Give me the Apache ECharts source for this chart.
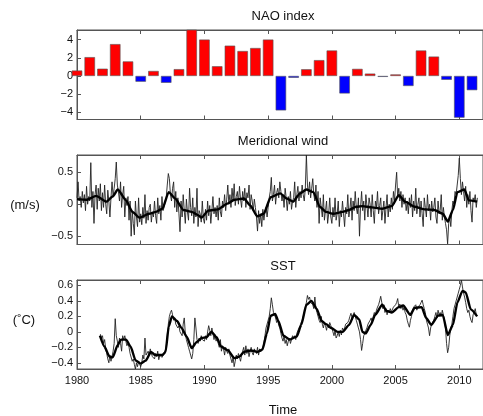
<!DOCTYPE html>
<html>
<head>
<meta charset="utf-8">
<script src="https://cdn.jsdelivr.net/npm/echarts@6/dist/echarts.min.js"></script>
<style>
html,body{margin:0;padding:0;background:#fff}
#main{width:483px;height:416px}
</style>
</head>
<body>
<div id="main"></div>
<script>
// NAO index (one bar per year)
var naoYears = [1980,1981,1982,1983,1984,1985,1986,1987,1988,1989,1990,1991,1992,1993,1994,1995,
  1996,1997,1998,1999,2000,2001,2002,2003,2004,2005,2006,2007,2008,2009,2010,2011];
var naoValues = [0.6,2.07,0.8,3.5,1.6,-0.63,0.55,-0.75,0.75,5.1,4.0,1.07,3.33,2.74,3.07,4.0,
  -3.78,-0.2,0.74,1.74,2.8,-1.92,0.78,0.26,-0.1,0.17,-1.1,2.8,2.13,-0.42,-4.58,-1.56];

// meridional wind, monthly from Jan 1980
var windStart = 1980;
var windMonthly = [
  0.10,0.35,0.05,0.12,-0.05,0.20,0.02,0.15,-0.10,0.28,0.00,0.12,
  0.05,0.65,-0.05,0.20,-0.30,0.15,0.30,-0.08,0.25,0.05,0.32,-0.10,
  0.18,-0.05,0.30,0.00,-0.15,0.22,0.05,-0.20,0.10,0.35,0.12,0.25,
  0.40,0.66,0.30,0.20,0.05,0.35,-0.05,0.15,0.28,-0.20,0.10,-0.02,
  0.12,-0.25,0.05,-0.50,-0.10,-0.30,-0.48,0.05,-0.20,-0.35,0.10,-0.28,
  -0.15,-0.32,-0.05,-0.22,0.15,-0.30,-0.10,-0.25,-0.05,0.00,-0.28,-0.12,
  -0.20,0.05,-0.18,-0.30,0.10,-0.15,-0.02,-0.25,0.12,-0.10,-0.05,0.05,
  0.10,0.30,0.48,0.40,0.15,0.05,0.25,0.35,-0.05,0.20,-0.12,0.10,
  -0.15,-0.43,0.05,-0.20,0.15,-0.10,-0.30,0.08,-0.12,-0.25,0.25,-0.05,
  -0.18,0.10,-0.30,-0.05,-0.20,0.25,-0.35,-0.10,-0.15,-0.28,0.05,-0.22,
  -0.30,-0.08,-0.25,0.05,-0.18,-0.02,-0.30,-0.10,0.12,-0.15,-0.05,-0.20,
  -0.02,-0.25,0.10,-0.12,-0.20,0.05,-0.05,0.15,-0.10,0.08,0.30,0.00,
  0.15,-0.05,0.25,0.05,0.32,-0.02,0.12,0.20,0.00,0.28,0.08,-0.05,
  0.20,0.05,0.25,-0.05,0.18,0.10,0.30,-0.08,0.15,0.05,-0.10,0.08,
  -0.05,-0.20,-0.42,-0.10,-0.30,-0.15,-0.35,-0.08,-0.25,-0.12,-0.05,-0.20,
  -0.05,0.10,0.20,0.42,0.05,0.15,0.30,0.00,0.18,0.25,0.10,0.35,
  0.20,0.05,0.15,-0.05,0.25,0.10,-0.10,0.12,0.00,0.20,-0.08,0.05,
  0.10,0.35,-0.05,0.15,0.28,0.05,0.20,0.10,0.30,0.15,0.05,0.25,
  0.77,0.30,0.15,0.35,0.10,0.25,0.40,0.15,0.05,0.30,-0.05,0.20,
  -0.30,0.10,-0.05,-0.20,0.15,-0.25,-0.10,0.05,-0.30,-0.15,0.10,-0.20,
  -0.30,-0.05,-0.20,0.10,-0.25,-0.15,0.05,-0.35,-0.10,-0.20,0.05,-0.15,
  -0.35,-0.05,-0.15,0.15,-0.20,-0.08,0.10,-0.25,0.05,-0.10,0.20,-0.05,
  -0.15,0.10,-0.50,-0.05,0.20,-0.10,0.05,-0.25,0.15,-0.02,-0.20,0.10,
  0.00,-0.20,0.15,-0.10,-0.30,0.05,-0.05,0.20,-0.15,-0.02,0.10,-0.25,
  -0.10,0.05,-0.30,-0.05,0.15,-0.20,0.00,-0.12,0.10,-0.08,0.20,0.05,
  0.30,0.50,0.10,0.25,0.05,0.20,-0.05,0.15,0.00,0.10,-0.10,0.05,
  -0.15,0.10,-0.05,0.15,-0.20,0.05,-0.10,0.25,-0.15,0.00,0.10,-0.20,
  0.05,-0.15,-0.35,0.10,-0.05,-0.20,0.15,-0.10,0.00,-0.25,0.05,-0.12,
  -0.05,0.10,-0.20,-0.30,0.05,-0.15,-0.10,0.15,-0.25,-0.05,-0.20,-0.30,
  -0.40,-0.62,-0.30,-0.20,-0.35,-0.10,0.05,0.00,0.20,0.15,0.30,0.45,
  0.72,0.40,0.15,0.35,0.20,0.05,0.28,-0.05,0.15,0.00,0.20,-0.10,
  -0.28,0.10,0.05,0.15,-0.05,0.10
];
// smoothed wind
var windSmoothT = [1980.0,1980.75,1981.5,1982.3,1982.8,1983.2,1983.85,1984.35,1984.9,1985.65,1986.2,1986.7,
  1987.2,1987.7,1988.35,1989.0,1989.5,1989.77,1990.3,1991.05,1991.8,1992.35,1993.1,1993.6,1994.15,1994.65,
  1995.2,1995.95,1996.45,1996.95,1997.5,1998.0,1998.55,1999.05,1999.55,2000.1,2000.85,2001.35,2001.9,2002.4,
  2003.15,2003.95,2004.7,2005.25,2005.75,2006.5,2007.3,2008.05,2008.7,2009.1,2009.5,2009.85,2010.4,2010.75,2011.4];
var windSmoothV = [0.08,0.07,0.13,0.04,0.12,0.23,0.06,-0.12,-0.21,-0.15,-0.12,-0.07,
  0.19,0.09,-0.09,-0.12,-0.17,-0.21,-0.10,-0.08,0.01,0.07,0.09,-0.02,-0.19,-0.15,
  0.11,0.17,0.09,0.04,0.17,0.23,0.19,-0.04,-0.12,-0.15,-0.12,-0.09,-0.04,-0.03,
  -0.05,-0.07,-0.03,0.14,0.04,-0.04,-0.08,-0.09,-0.15,-0.27,-0.09,0.19,0.23,0.06,0.04];

// SST, monthly from Nov 1981
var sstStart = 1981 + 10/12;
var sstMonthly = [
  -0.03,-0.08,
  -0.05,-0.15,-0.10,-0.22,-0.28,-0.35,-0.40,-0.30,-0.38,-0.32,-0.25,-0.15,
  0.17,-0.05,-0.12,-0.20,-0.08,-0.15,-0.25,-0.05,-0.10,-0.05,-0.12,-0.18,
  -0.15,-0.20,-0.28,-0.30,-0.38,-0.35,-0.42,-0.48,-0.40,-0.45,-0.38,-0.42,
  -0.45,-0.40,-0.30,-0.35,-0.08,-0.30,-0.28,-0.25,-0.30,-0.22,-0.28,-0.32,
  -0.30,-0.35,-0.28,-0.32,-0.25,-0.36,-0.30,-0.28,-0.33,-0.35,-0.28,-0.30,
  -0.20,-0.05,0.10,0.20,0.25,0.28,0.22,0.15,0.18,0.10,0.12,0.05,
  0.08,0.00,0.02,-0.05,0.10,0.18,-0.02,-0.10,-0.12,-0.20,-0.25,-0.30,
  -0.35,-0.28,-0.10,0.18,0.05,-0.10,-0.15,-0.08,-0.12,-0.05,-0.10,-0.08,
  -0.12,-0.05,-0.10,0.00,0.08,0.02,-0.05,0.05,-0.02,-0.10,-0.05,-0.12,
  -0.08,-0.15,-0.20,-0.10,-0.25,-0.18,-0.22,-0.30,-0.20,-0.25,-0.28,-0.22,
  -0.30,-0.35,-0.40,-0.32,-0.45,-0.38,-0.30,-0.35,-0.28,-0.33,-0.38,-0.30,
  -0.25,-0.20,-0.30,-0.18,-0.28,-0.22,-0.32,-0.25,-0.20,-0.27,-0.30,-0.22,
  -0.25,-0.28,-0.20,-0.30,-0.22,-0.26,-0.28,-0.20,-0.15,-0.05,0.05,0.10,
  0.15,0.20,0.30,0.44,0.35,0.25,0.22,0.18,0.12,0.15,0.08,0.05,
  -0.02,-0.08,-0.12,-0.05,-0.15,-0.10,-0.18,-0.12,-0.08,-0.15,-0.10,-0.05,
  -0.08,-0.05,-0.10,-0.02,0.00,0.05,0.08,0.12,0.15,0.20,0.25,0.32,
  0.38,0.47,0.42,0.45,0.38,0.40,0.35,0.30,0.45,0.30,0.25,0.20,
  0.15,0.12,0.20,0.10,0.05,0.12,0.08,0.02,0.10,0.05,0.12,0.08,
  0.05,0.00,-0.05,0.02,-0.08,-0.05,0.00,-0.06,0.02,-0.04,0.05,0.02,
  0.05,0.10,0.08,0.12,0.15,0.20,0.24,0.18,0.22,0.25,0.20,0.15,
  0.10,0.05,0.00,-0.10,-0.24,-0.15,-0.05,-0.02,0.02,0.05,0.10,0.12,
  0.15,0.18,0.12,0.20,0.25,0.22,0.28,0.32,0.35,0.40,0.46,0.38,
  0.30,0.35,0.25,0.30,0.22,0.28,0.25,0.30,0.26,0.28,0.32,0.30,
  0.35,0.38,0.43,0.32,0.36,0.30,0.35,0.28,0.32,0.25,0.22,0.15,
  0.10,0.06,0.15,0.20,0.28,0.32,0.30,0.35,0.28,0.32,0.30,0.35,
  0.38,0.41,0.35,0.30,0.25,0.15,0.10,0.05,-0.05,0.05,0.10,0.12,
  0.15,0.20,0.25,0.18,0.28,0.22,0.25,0.20,0.28,0.22,0.15,0.05,
  -0.15,-0.27,-0.20,-0.05,0.05,0.10,0.20,0.30,0.35,0.40,0.45,0.50,
  0.55,0.60,0.67,0.58,0.50,0.45,0.38,0.30,0.25,0.28,0.20,0.15,
  0.12,0.22,0.25,0.30,0.22
];
// smoothed SST
var sstSmoothT = [1981.8,1982.15,1982.55,1982.8,1983.2,1983.45,1983.85,1984.2,1984.6,1985.0,1985.4,1985.8,
  1986.15,1986.7,1986.95,1987.2,1987.45,1987.85,1988.2,1988.6,1989.0,1989.4,1989.8,1990.15,1990.55,1990.95,
  1991.3,1991.85,1992.35,1992.75,1993.1,1993.65,1994.15,1994.55,1994.9,1995.2,1995.55,1995.8,1996.2,1996.7,
  1997.25,1997.6,1998.0,1998.4,1998.8,1999.2,1999.55,1999.95,2000.45,2000.85,2001.35,2001.75,2002.15,2002.4,
  2002.65,2003.05,2003.4,2003.95,2004.3,2004.7,2005.25,2005.6,2006.15,2006.5,2007.05,2007.4,2007.8,2008.35,
  2008.7,2009.1,2009.5,2009.85,2010.25,2010.5,2010.9,2011.4];
var sstSmoothV = [-0.05,-0.19,-0.32,-0.33,-0.17,-0.10,-0.10,-0.19,-0.37,-0.41,-0.37,-0.26,
  -0.30,-0.30,-0.26,0.07,0.20,0.14,0.05,-0.06,-0.21,-0.13,-0.08,-0.07,0.00,-0.07,
  -0.19,-0.24,-0.34,-0.32,-0.26,-0.24,-0.26,-0.23,-0.02,0.21,0.23,0.14,-0.05,-0.10,
  -0.06,0.09,0.35,0.40,0.30,0.14,0.10,0.05,0.00,0.00,0.09,0.22,0.16,0.00,
  -0.02,0.09,0.22,0.35,0.27,0.25,0.32,0.34,0.22,0.31,0.32,0.18,0.09,0.21,
  0.22,-0.04,0.09,0.38,0.53,0.51,0.29,0.20];

var naoTicks = [-4,-2,0,2,4];
var windTicks = [-0.5,0,0.5];
var sstTicks = [-0.4,-0.2,0,0.2,0.4,0.6];

var font = "'Liberation Sans', Arial, sans-serif";
var frame = '#555';

function monthly(start, vals) {
  return vals.map(function (v, i) { return [start + i / 12, v]; });
}
function pairs(t, v) {
  return t.map(function (x, i) { return [x, v[i]]; });
}
function minusFmt(v) {
  return v < 0 ? '\u2212' + Math.abs(v) : String(v);
}

var grids = [
  {left: 77, top: 30, width: 412, height: 89.5},
  {left: 77, top: 155, width: 412, height: 89.5},
  {left: 77, top: 280, width: 412, height: 89}
];
grids.forEach(function (g) {
  g.show = true; g.borderColor = frame; g.borderWidth = 1; g.backgroundColor = 'transparent';
});

var xAxes = [];
for (var i = 0; i < 3; i++) {
  ['bottom', 'top'].forEach(function (pos) {
    xAxes.push({
      type: 'value', gridIndex: i, position: pos, min: 1980, max: 2011.86, interval: 5,
      axisLine: {show: true, onZero: false, lineStyle: {color: frame, width: 1}},
      axisTick: {show: true, inside: true, length: 4, lineStyle: {color: frame}},
      splitLine: {show: false},
      axisLabel: {show: i === 2 && pos === 'bottom', margin: 6, color: '#111', fontSize: 11, fontFamily: font,
        showMaxLabel: false, formatter: function (v) { return String(v); }}
    });
  });
}

function yAxis(idx, min, max, ticks) {
  return {
    type: 'value', gridIndex: idx, min: min, max: max,
    axisLine: {show: true, lineStyle: {color: frame}},
    axisTick: {show: true, inside: true, length: 4, customValues: ticks, lineStyle: {color: frame}},
    splitLine: {show: false},
    axisLabel: {customValues: ticks, formatter: minusFmt, margin: 4, color: '#111', fontSize: 11, fontFamily: font}
  };
}

var thick = {type: 'line', symbol: 'none', smooth: 0.2, smoothMonotone: 'x', lineStyle: {color: '#000', width: 2.4}};
var thin = {type: 'line', symbol: 'none', lineStyle: {color: '#222', width: 0.9}};

var chart = echarts.init(document.getElementById('main'), null, {renderer: 'canvas'});
chart.setOption({
  animation: false,
  textStyle: {fontFamily: font},
  title: [
    {text: 'NAO index', left: 283, top: 10, textAlign: 'center'},
    {text: 'Meridional wind', left: 283, top: 135, textAlign: 'center'},
    {text: 'SST', left: 283, top: 260, textAlign: 'center'},
    {text: 'Time', left: 283, top: 404, textAlign: 'center'},
    {text: '(m/s)', left: 25, top: 199, textAlign: 'center'},
    {text: '(\u02DAC)', left: 24, top: 314, textAlign: 'center'}
  ].map(function (t) {
    t.padding = 0;
    t.textStyle = {fontSize: 13, fontWeight: 'normal', color: '#111', fontFamily: font};
    return t;
  }),
  grid: grids,
  xAxis: xAxes,
  yAxis: [
    yAxis(0, -4.78, 5.05, naoTicks),
    yAxis(1, -0.63, 0.77, windTicks),
    yAxis(2, -0.48, 0.67, sstTicks)
  ],
  series: [
    {
      type: 'bar', xAxisIndex: 0, yAxisIndex: 0, barWidth: 10.5,
      data: pairs(naoYears, naoValues),
      itemStyle: {
        borderColor: '#555', borderWidth: 0.6,
        color: function (p) { return p.value[1] >= 0 ? '#ff0000' : '#0000ff'; }
      }
    },
    Object.assign({xAxisIndex: 2, yAxisIndex: 1, data: monthly(windStart, windMonthly)}, thin),
    Object.assign({xAxisIndex: 2, yAxisIndex: 1, data: pairs(windSmoothT, windSmoothV)}, thick),
    Object.assign({xAxisIndex: 4, yAxisIndex: 2, data: monthly(sstStart, sstMonthly)}, thin),
    Object.assign({xAxisIndex: 4, yAxisIndex: 2, data: pairs(sstSmoothT, sstSmoothV)}, thick)
  ]
});
</script>
</body>
</html>
